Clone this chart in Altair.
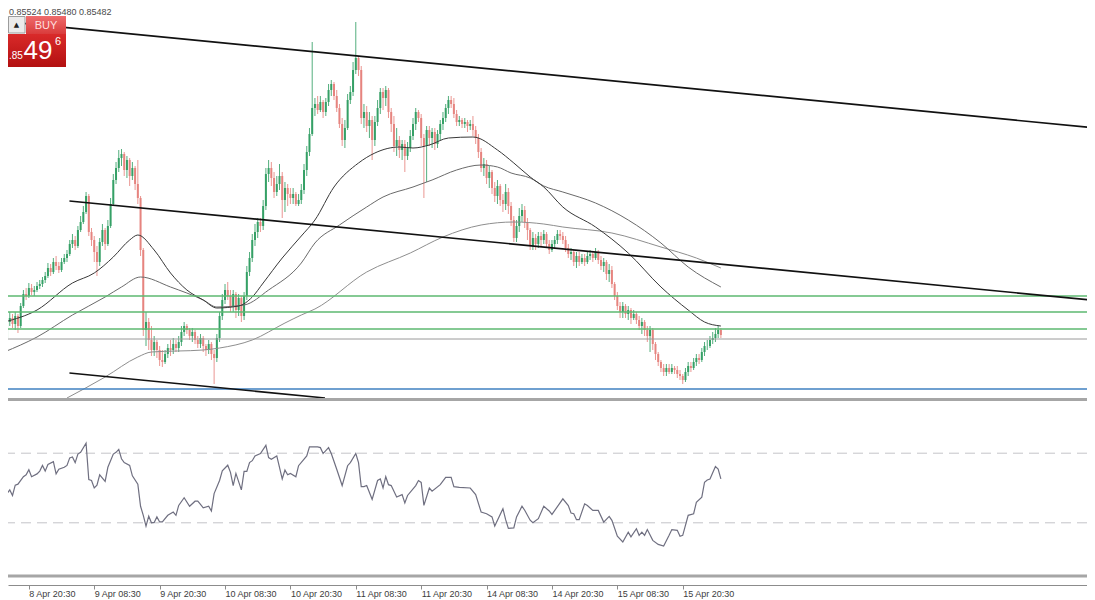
import json
import altair as alt
import pandas as pd

# ---------------- data (prices in points, 1 point = 0.00001) ----------------
first_open = 85487
close_pts = [
    85479, 85495, 85499, 85493, 85501, 85491, 85511, 85523, 85521, 85529,
    85525, 85527, 85531, 85533, 85537, 85541, 85549, 85545, 85555, 85551,
    85547, 85555, 85559, 85563, 85573, 85577, 85571, 85587, 85595, 85605,
    85621, 85585, 85577, 85565, 85555, 85575, 85587, 85573, 85591, 85613,
    85637, 85649, 85659, 85663, 85647, 85657, 85641, 85649, 85633, 85619,
    85567, 85487, 85495, 85477, 85467, 85475, 85467, 85457, 85455, 85463,
    85469, 85467, 85473, 85469, 85475, 85485, 85491, 85487, 85481, 85485,
    85477, 85473, 85479, 85471, 85467, 85473, 85463, 85459, 85479, 85501,
    85517, 85527, 85521, 85511, 85523, 85507, 85519, 85501, 85521, 85545,
    85559, 85577, 85585, 85595, 85591, 85611, 85643, 85649, 85639, 85625,
    85633, 85641, 85617, 85629, 85623, 85619, 85623, 85613, 85617, 85627,
    85647, 85665, 85683, 85709, 85713, 85707, 85715, 85705, 85715, 85727,
    85733, 85721, 85709, 85693, 85677, 85689, 85717, 85725, 85747, 85759,
    85747, 85699, 85705, 85691, 85697, 85677, 85695, 85709, 85725, 85719,
    85727, 85705, 85693, 85671, 85677, 85667, 85673, 85661, 85669, 85681,
    85693, 85705, 85699, 85679, 85671, 85687, 85679, 85685, 85673, 85683,
    85693, 85699, 85709, 85717, 85713, 85703, 85695, 85697, 85693, 85695,
    85691, 85693, 85687, 85679, 85665, 85649, 85653, 85639, 85645, 85629,
    85621, 85631, 85617, 85613, 85625, 85611, 85597, 85579, 85591, 85601,
    85607, 85595, 85587, 85571, 85579, 85573, 85581, 85577, 85583, 85573,
    85567, 85573, 85577, 85583, 85581, 85577, 85569, 85563, 85565, 85555,
    85561, 85555, 85559, 85555, 85561, 85563, 85559, 85565, 85557, 85551,
    85555, 85543, 85547, 85533, 85521, 85511, 85505, 85511, 85503, 85507,
    85499, 85503, 85497, 85491, 85495, 85487, 85481, 85487, 85473, 85463,
    85455, 85449, 85445, 85449, 85445, 85449, 85447, 85443, 85441, 85437,
    85445, 85451, 85449, 85455, 85459, 85457, 85465, 85471, 85471, 85477,
    85479, 85483, 85487, 85482,
]
high_pts = [
    85491, 85499, 85505, 85503, 85505, 85503, 85514, 85527, 85529, 85534,
    85533, 85531, 85535, 85537, 85540, 85545, 85554, 85553, 85559, 85561,
    85555, 85559, 85563, 85567, 85577, 85583, 85581, 85591, 85601, 85611,
    85625, 85623, 85589, 85581, 85571, 85579, 85593, 85589, 85597, 85619,
    85643, 85655, 85667, 85668, 85665, 85661, 85659, 85655, 85651, 85657,
    85621, 85569, 85505, 85499, 85491, 85481, 85477, 85471, 85467, 85467,
    85473, 85477, 85479, 85477, 85481, 85491, 85495, 85493, 85489, 85489,
    85487, 85481, 85483, 85481, 85473, 85477, 85475, 85467, 85483, 85505,
    85523, 85533, 85535, 85527, 85527, 85525, 85523, 85521, 85525, 85551,
    85565, 85583, 85593, 85599, 85599, 85617, 85649, 85657, 85655, 85645,
    85641, 85653, 85645, 85635, 85633, 85629, 85629, 85625, 85623, 85633,
    85653, 85671, 85689, 85775, 85719, 85721, 85721, 85717, 85719, 85733,
    85737, 85735, 85727, 85713, 85699, 85697, 85723, 85731, 85755, 85795,
    85761, 85751, 85713, 85711, 85705, 85701, 85701, 85717, 85729, 85729,
    85731, 85729, 85709, 85701, 85689, 85681, 85677, 85677, 85675, 85687,
    85699, 85709, 85707, 85703, 85683, 85691, 85691, 85689, 85689, 85687,
    85697, 85705, 85713, 85721, 85721, 85719, 85707, 85701, 85699, 85699,
    85697, 85697, 85701, 85691, 85683, 85669, 85659, 85657, 85651, 85647,
    85635, 85637, 85633, 85623, 85633, 85629, 85615, 85601, 85597, 85609,
    85613, 85611, 85599, 85589, 85585, 85583, 85585, 85585, 85587, 85585,
    85577, 85577, 85581, 85587, 85587, 85585, 85581, 85573, 85569, 85567,
    85565, 85565, 85563, 85563, 85565, 85567, 85565, 85569, 85567, 85561,
    85559, 85557, 85553, 85551, 85535, 85525, 85515, 85515, 85513, 85511,
    85509, 85507, 85505, 85501, 85499, 85497, 85491, 85491, 85489, 85475,
    85465, 85457, 85453, 85453, 85453, 85453, 85451, 85451, 85447, 85443,
    85449, 85455, 85455, 85459, 85463, 85463, 85469, 85475, 85477, 85481,
    85485, 85489, 85491, 85489,
]
low_pts = [
    85467, 85465, 85491, 85489, 85487, 85484, 85489, 85509, 85517, 85519,
    85522, 85521, 85525, 85528, 85530, 85534, 85539, 85541, 85543, 85547,
    85544, 85545, 85553, 85555, 85561, 85569, 85567, 85569, 85585, 85593,
    85603, 85581, 85571, 85555, 85541, 85551, 85571, 85567, 85571, 85589,
    85611, 85633, 85645, 85651, 85641, 85639, 85631, 85637, 85627, 85613,
    85561, 85481, 85471, 85467, 85461, 85461, 85459, 85451, 85450, 85453,
    85459, 85461, 85463, 85465, 85465, 85471, 85481, 85483, 85477, 85475,
    85473, 85469, 85469, 85465, 85461, 85463, 85457, 85433, 85455, 85475,
    85497, 85513, 85517, 85505, 85505, 85499, 85501, 85495, 85497, 85517,
    85541, 85555, 85571, 85579, 85585, 85587, 85607, 85635, 85631, 85619,
    85621, 85627, 85599, 85605, 85611, 85613, 85613, 85611, 85611, 85613,
    85623, 85641, 85661, 85681, 85701, 85703, 85705, 85699, 85701, 85711,
    85721, 85717, 85705, 85689, 85671, 85669, 85687, 85713, 85721, 85743,
    85741, 85693, 85689, 85685, 85679, 85657, 85671, 85691, 85703, 85707,
    85711, 85699, 85685, 85665, 85661, 85659, 85657, 85645, 85657, 85665,
    85677, 85687, 85695, 85671, 85619, 85635, 85671, 85669, 85667, 85669,
    85677, 85687, 85695, 85703, 85709, 85699, 85691, 85691, 85689, 85689,
    85685, 85687, 85681, 85673, 85659, 85645, 85641, 85633, 85629, 85623,
    85615, 85613, 85611, 85605, 85607, 85603, 85591, 85575, 85575, 85585,
    85595, 85589, 85577, 85567, 85567, 85567, 85569, 85571, 85573, 85569,
    85563, 85565, 85569, 85573, 85577, 85573, 85565, 85559, 85557, 85551,
    85549, 85551, 85553, 85551, 85553, 85557, 85555, 85557, 85553, 85547,
    85545, 85537, 85535, 85529, 85517, 85507, 85499, 85499, 85499, 85497,
    85493, 85497, 85493, 85487, 85483, 85481, 85475, 85465, 85467, 85457,
    85451, 85445, 85441, 85441, 85443, 85443, 85443, 85439, 85437, 85433,
    85435, 85441, 85445, 85447, 85451, 85453, 85455, 85461, 85467, 85469,
    85473, 85475, 85479, 85479,
]

# moving averages read at sample bars
ma_fast_bar = [0, 12, 25, 33, 40, 46, 49, 55, 61, 67, 73, 78, 86, 91, 95, 102, 109, 114, 121, 130,
               136, 145, 150, 156, 163, 172, 181, 187, 193, 198, 205, 217, 229, 241, 251, 257, 263]
ma_fast_pts = [85495, 85507, 85534, 85544, 85560, 85577, 85582, 85567, 85544, 85527,
               85517, 85509, 85511, 85520, 85534, 85559, 85581, 85597, 85630, 85654,
               85664, 85670, 85669, 85672, 85679, 85680, 85667, 85654, 85640, 85630,
               85610, 85590, 85564, 85530, 85507, 85495, 85491]
ma_mid_bar = [0, 12, 25, 37, 43, 50, 61, 73, 78, 88, 97, 109, 114, 123, 133, 139, 150, 157, 166, 175,
              181, 186, 193, 198, 205, 217, 229, 241, 251, 263]
ma_mid_pts = [85465, 85480, 85502, 85520, 85530, 85540, 85530, 85517, 85510, 85512,
              85527, 85554, 85574, 85592, 85610, 85620, 85630, 85637, 85647, 85652,
              85650, 85644, 85639, 85631, 85625, 85614, 85597, 85574, 85550, 85530]
ma_slow_bar = [23, 37, 49, 54, 73, 79, 91, 103, 109, 114, 133, 149, 161, 175, 187, 198, 205, 223, 241, 254, 263]
ma_slow_pts = [85419, 85440, 85460, 85465, 85467, 85469, 85477, 85494, 85502, 85508,
               85545, 85564, 85580, 85592, 85595, 85593, 85590, 85584, 85570, 85559, 85549]

# horizontal levels
green_levels = [0.85521, 0.85505, 0.85488]
gray_level = [0.85478]
blue_level = [0.85428]

# trend lines (bar index, price)
tl_id = ["upper", "upper", "middle", "middle", "lower", "lower"]
tl_bar = [0, 398.5, 23.9, 398.5, 23.9, 117.7]
tl_price = [0.857955, 0.856895, 0.85616, 0.85517, 0.85444, 0.85419]

# RSI read at sample bars
rsi_bar = [
    0, 1, 2, 3, 4, 5, 7, 8, 9, 10,
    12, 13, 14, 15, 16, 18, 19, 20, 22, 23,
    24, 25, 26, 27, 28, 30, 31, 32, 33, 34,
    35, 37, 38, 40, 41, 42, 43, 44, 46, 47,
    49, 50, 51, 52, 53, 54, 55, 56, 57, 58,
    60, 62, 63, 64, 66, 68, 70, 71, 72, 73,
    75, 76, 77, 79, 80, 82, 83, 84, 85, 87,
    88, 89, 90, 91, 92, 94, 96, 97, 98, 100,
    102, 103, 104, 105, 107, 108, 111, 112, 115, 116,
    117, 119, 120, 122, 124, 126, 127, 129, 130, 131,
    132, 133, 135, 137, 138, 139, 140, 141, 142, 144,
    146, 147, 148, 151, 152, 153, 154, 156, 157, 160,
    162, 164, 165, 167, 171, 173, 175, 177, 179, 180,
    183, 184, 185, 187, 188, 190, 191, 193, 194, 196,
    198, 200, 201, 205, 207, 208, 209, 210, 211, 213,
    214, 216, 218, 220, 222, 223, 225, 227, 229, 230,
    232, 233, 234, 235, 236, 238, 240, 242, 244, 245,
    247, 248, 249, 251, 253, 254, 256, 257, 258, 259,
    261, 262, 263,
]
rsi_value = [
    39.2, 46.8, 48.9, 45.7, 51.6, 52.2, 56.5, 57.6, 60.5, 56.5,
    58.1, 59.7, 63.0, 59.7, 63.5, 65.1, 58.1, 60.8, 61.9, 63.0,
    67.3, 67.8, 64.6, 69.5, 70.5, 75.7, 54.9, 54.3, 50.0, 51.6,
    57.6, 53.8, 61.9, 69.5, 70.5, 72.2, 66.8, 64.6, 63.0, 57.0,
    52.2, 39.5, 34.3, 28.1, 33.8, 30.0, 30.2, 33.4, 30.5, 30.5,
    34.3, 36.2, 34.3, 40.0, 44.4, 39.5, 42.4, 42.4, 40.6, 38.6,
    39.5, 36.8, 46.8, 54.3, 59.9, 63.1, 59.0, 51.4, 58.4, 48.9,
    59.5, 59.5, 64.6, 65.7, 68.4, 69.8, 74.5, 67.5, 66.5, 68.4,
    55.2, 60.3, 57.6, 58.4, 56.5, 62.8, 68.4, 73.6, 73.6, 73.2,
    69.8, 73.2, 69.8, 60.8, 51.4, 62.8, 64.6, 69.8, 64.6, 50.8,
    50.8, 51.4, 43.5, 54.3, 55.2, 50.0, 56.5, 51.9, 51.4, 44.8,
    46.2, 41.4, 45.7, 51.4, 54.3, 53.2, 40.0, 50.0, 48.2, 51.9,
    56.1, 56.1, 50.8, 50.4, 50.0, 46.2, 36.2, 35.2, 33.4, 28.1,
    38.1, 31.8, 26.8, 27.1, 33.4, 39.5, 37.2, 31.5, 30.0, 32.4,
    39.5, 36.8, 34.8, 43.8, 39.9, 35.6, 35.2, 31.8, 31.8, 40.9,
    39.9, 37.1, 37.1, 30.4, 33.7, 31.4, 22.3, 19.0, 24.6, 21.9,
    26.6, 22.8, 24.6, 22.8, 26.1, 19.9, 17.6, 16.6, 22.8, 26.1,
    25.7, 22.3, 22.8, 34.3, 35.2, 41.8, 44.7, 53.3, 54.6, 55.2,
    62.3, 60.9, 55.2,
]
rsi_levels = [70, 30]

tick_bars = [9, 33, 57, 81, 105, 129, 153, 177, 201, 225, 249]
tick_labels = ["8 Apr 20:30", "9 Apr 08:30", "9 Apr 20:30", "10 Apr 08:30", "10 Apr 20:30",
               "11 Apr 08:30", "11 Apr 20:30", "14 Apr 08:30", "14 Apr 20:30",
               "15 Apr 08:30", "15 Apr 20:30"]

header_text = "0.85524 0.85480 0.85482"

# ---------------- tables ----------------
n = min(len(close_pts), len(high_pts), len(low_pts))
opens = [first_open] + close_pts[: n - 1]
rows = []
for i in range(n):
    o, c = opens[i], close_pts[i]
    h = max(high_pts[i], o, c)
    l = min(low_pts[i], o, c)
    rows.append({"bar": i, "open": o / 1e5, "close": c / 1e5, "high": h / 1e5,
                 "low": l / 1e5, "dir": "up" if c >= o else "down"})
candles = pd.DataFrame(rows)

ma_fast = pd.DataFrame({"bar": ma_fast_bar, "price": [v / 1e5 for v in ma_fast_pts]})
ma_mid = pd.DataFrame({"bar": ma_mid_bar, "price": [v / 1e5 for v in ma_mid_pts]})
ma_slow = pd.DataFrame({"bar": ma_slow_bar, "price": [v / 1e5 for v in ma_slow_pts]})
trend = pd.DataFrame({"bar": tl_bar, "price": tl_price, "tl": tl_id})
rsi = pd.DataFrame({"bar": rsi_bar[: len(rsi_value)], "rsi": rsi_value[: len(rsi_bar)]})
one = pd.DataFrame({"k": [0]})

# ---------------- scales ----------------
W, H = 1079, 577
xscale = alt.Scale(domain=[3.1818, 395.5455], nice=False, zero=False)
pscale = alt.Scale(domain=[0.85416, 0.85809], range=[393, 0], nice=False, zero=False)
rscale = alt.Scale(domain=[0, 100], range=[567, 393], nice=False, zero=False)

label_expr = f"{json.dumps(tick_labels)}[indexof({json.dumps(tick_bars)}, datum.value)]"
xaxis = alt.Axis(values=tick_bars, labelExpr=label_expr, title=None, grid=False,
                 domainColor="#8c8c8c", domainWidth=1, tickColor="#8c8c8c", tickSize=4,
                 tickWidth=1, labelFont="Liberation Sans", labelFontSize=9,
                 labelColor="#3c3c3c", labelAlign="left", labelBaseline="top",
                 labelPadding=0, labelOverlap=False, labelFlush=False)


def X(field="bar"):
    return alt.X(f"{field}:Q", scale=xscale, axis=xaxis)


def PY(field):
    return alt.Y(f"{field}:Q", scale=pscale, axis=None)


up_col, down_col = "#35a066", "#e6847f"
dir_color = alt.Color("dir:N", scale=alt.Scale(domain=["up", "down"], range=[up_col, down_col]), legend=None)

layers = []

# candles
base_c = alt.Chart(candles)
layers.append(base_c.mark_rule(strokeWidth=1, opacity=0.85).encode(
    x=X(), y=PY("high"), y2="low:Q", color=dir_color))
layers.append(base_c.mark_bar(size=2).encode(
    x=X(), y=PY("open"), y2="close:Q", color=dir_color))

# moving averages
for df_ma, col in ((ma_slow, "#8e8e8e"), (ma_mid, "#6a6a6a"), (ma_fast, "#383838")):
    layers.append(alt.Chart(df_ma).mark_line(strokeWidth=1, interpolate="monotone", color=col).encode(
        x=X(), y=PY("price")))

# horizontal levels
layers.append(alt.Chart(pd.DataFrame({"price": green_levels})).mark_rule(
    color="#5cb870", strokeWidth=1.5).encode(y=PY("price")))
layers.append(alt.Chart(pd.DataFrame({"price": gray_level})).mark_rule(
    color="#9a9a9a", strokeWidth=1).encode(y=PY("price")))
layers.append(alt.Chart(pd.DataFrame({"price": blue_level})).mark_rule(
    color="#3f80c0", strokeWidth=1.6).encode(y=PY("price")))

# trend lines
layers.append(alt.Chart(trend).mark_line(color="#111111", strokeWidth=1.7).encode(
    x=X(), y=PY("price"), detail="tl:N"))

# RSI panel
layers.append(alt.Chart(pd.DataFrame({"rsi": rsi_levels})).mark_rule(
    color="#c4c4c8", strokeWidth=1, strokeDash=[10, 6]).encode(
    y=alt.Y("rsi:Q", scale=rscale, axis=None)))
layers.append(alt.Chart(rsi).mark_line(color="#6f6f80", strokeWidth=1.2).encode(
    x=X(), y=alt.Y("rsi:Q", scale=rscale, axis=None)))

# panel separators
for yv in (391.5, 568):
    layers.append(alt.Chart(one).mark_rule(color="#a6a6a6", strokeWidth=3).encode(
        x=alt.value(0), x2=alt.value(W), y=alt.value(yv)))

# header text
layers.append(alt.Chart(one).mark_text(
    text=header_text, font="Liberation Sans", fontSize=9, color="#4a4a4a",
    align="left", baseline="top").encode(x=alt.value(1), y=alt.value(0)))

# one-click trading widget
layers.append(alt.Chart(one).mark_rect(fill="#ebebeb", stroke="#9c9c9c", strokeWidth=1).encode(
    x=alt.value(0.5), x2=alt.value(17), y=alt.value(8.5), y2=alt.value(25)))
layers.append(alt.Chart(one).mark_text(text="▲", font="DejaVu Sans", fontSize=7, color="#222222",
                                       align="center", baseline="middle").encode(
    x=alt.value(8.5), y=alt.value(16.5)))
layers.append(alt.Chart(one).mark_rect(
    color=alt.Gradient(gradient="linear", x1=0, x2=0, y1=0, y2=1,
                       stops=[alt.GradientStop(offset=0, color="#ef6c6c"),
                              alt.GradientStop(offset=1, color="#d93b3b")])).encode(
    x=alt.value(18), x2=alt.value(58), y=alt.value(8), y2=alt.value(26)))
layers.append(alt.Chart(one).mark_text(text="BUY", font="Liberation Sans", fontSize=11,
                                       color="#ffdede", align="center", baseline="middle").encode(
    x=alt.value(38), y=alt.value(17.5)))
layers.append(alt.Chart(one).mark_rect(
    color=alt.Gradient(gradient="linear", x1=0, x2=0, y1=0, y2=1,
                       stops=[alt.GradientStop(offset=0, color="#d92a2a"),
                              alt.GradientStop(offset=1, color="#b31010")])).encode(
    x=alt.value(0), x2=alt.value(58), y=alt.value(26), y2=alt.value(59)))
layers.append(alt.Chart(one).mark_text(text=".85", font="Liberation Sans", fontSize=10,
                                       color="#ffffff", align="left", baseline="middle").encode(
    x=alt.value(1), y=alt.value(48)))
layers.append(alt.Chart(one).mark_text(text="49", font="Liberation Sans", fontSize=26,
                                       color="#ffffff", align="center", baseline="middle").encode(
    x=alt.value(30), y=alt.value(43)))
layers.append(alt.Chart(one).mark_text(text="6", font="Liberation Sans", fontSize=11,
                                       color="#ffffff", align="center", baseline="middle").encode(
    x=alt.value(50), y=alt.value(34)))

chart = alt.layer(*layers).resolve_scale(y="independent").properties(
    width=W, height=H,
    background="#ffffff",
    autosize=alt.AutoSizeParams(type="none"),
    padding={"left": 0, "top": 0, "right": 0, "bottom": 15},
).configure_view(stroke=None)

chart.save("out.html", embed_options={"renderer": "svg", "actions": False})
